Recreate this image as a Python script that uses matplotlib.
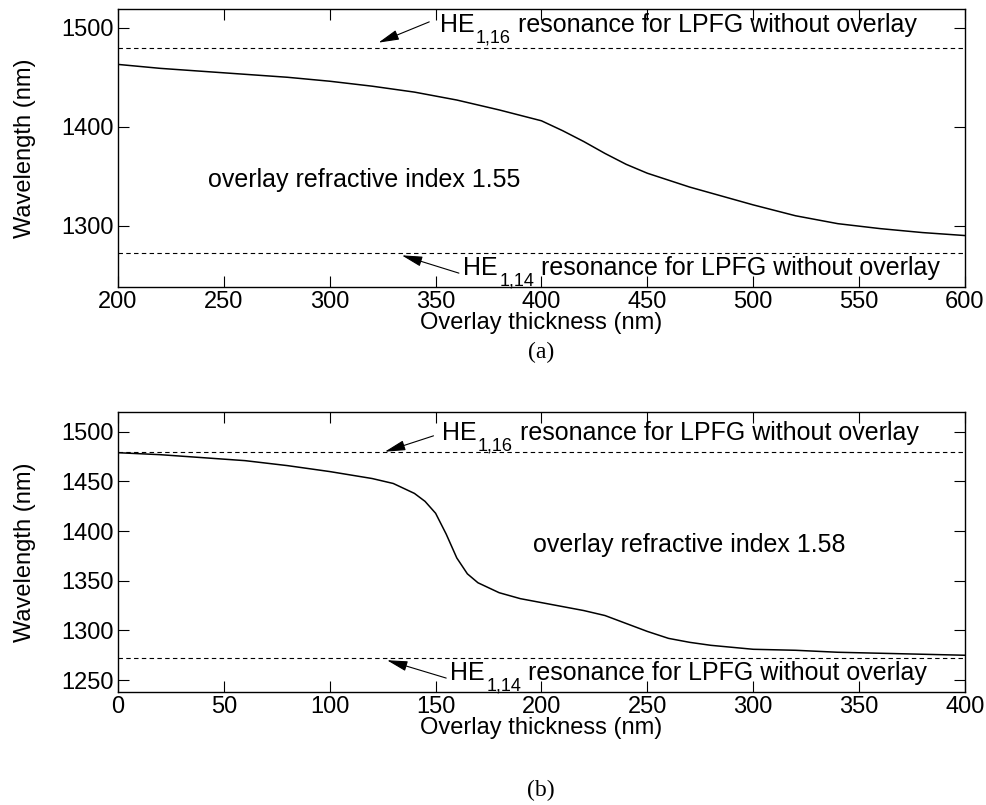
import matplotlib
matplotlib.use("Agg")
import matplotlib.pyplot as plt

# (a) overlay refractive index 1.55
thick_a = [200, 220, 240, 260, 280, 300, 320, 340, 360, 380, 400, 410,
           420, 430, 440, 450, 460, 470, 480, 500, 520, 540, 560, 580, 600]
wl_a = [1463, 1459, 1456, 1453, 1450, 1446, 1441, 1435, 1427, 1417, 1406,
        1396, 1385, 1373, 1362, 1353, 1346, 1339, 1333, 1321, 1310, 1302,
        1297, 1293, 1290]

# (b) overlay refractive index 1.58
thick_b = [0, 20, 40, 60, 80, 100, 120, 130, 140, 145, 150, 155, 160, 165,
           170, 180, 190, 200, 210, 220, 230, 240, 250, 260, 270, 280, 300,
           320, 340, 360, 380, 400]
wl_b = [1479, 1477, 1474, 1471, 1466, 1460, 1453, 1448, 1438, 1430, 1418,
        1397, 1373, 1357, 1348, 1338, 1332, 1328, 1324, 1320, 1315, 1307,
        1299, 1292, 1288, 1285, 1281, 1280, 1278, 1277, 1276, 1275]

# resonances for LPFG without overlay
he_116 = 1480
he_114 = 1272

xticks_a = [200, 250, 300, 350, 400, 450, 500, 550, 600]
yticks_a = [1300, 1400, 1500]
xticks_b = [0, 50, 100, 150, 200, 250, 300, 350, 400]
yticks_b = [1250, 1300, 1350, 1400, 1450, 1500]

plt.rcParams["font.family"] = ["Liberation Sans", "DejaVu Sans"]
plt.rcParams["font.size"] = 17

DPI = 100
fig = plt.figure(figsize=(9.87, 8.05), dpi=DPI)
ax_a = fig.add_axes([0.1196, 0.6435, 0.858, 0.3453])
ax_b = fig.add_axes([0.1196, 0.1404, 0.858, 0.3478])
renderer = fig.canvas.get_renderer()

arrow_kw = dict(arrowstyle="-|>,head_length=0.9,head_width=0.22", color="k",
                lw=0.8, shrinkA=0, shrinkB=0, mutation_scale=14)
FS = 18
REST = "resonance for LPFG without overlay"


def width_pt(t):
    return t.get_window_extent(renderer=renderer).width * 72.0 / DPI


def he_label(ax, x, y, sub):
    # "HE" with a big, low subscript, then the rest of the sentence
    t = ax.text(x, y, "HE", ha="left", va="baseline", fontsize=FS)
    w = width_pt(t) + 1.0
    s = ax.annotate(sub, xy=(x, y), xytext=(w, -7.8), textcoords="offset points",
                    ha="left", va="baseline", fontsize=13)
    w += width_pt(s) + 5.0
    ax.annotate(REST, xy=(x, y), xytext=(w, 0), textcoords="offset points",
                ha="left", va="baseline", fontsize=FS)


def style(ax, xlim, ylim, xticks, yticks):
    ax.set_xlim(*xlim)
    ax.set_ylim(*ylim)
    ax.set_xticks(xticks)
    ax.set_yticks(yticks)
    ax.tick_params(direction="in", top=True, right=True, length=8,
                   width=0.8, labelsize=17, pad=3)
    for sp in ax.spines.values():
        sp.set_linewidth(1.0)
    ax.set_xlabel("Overlay thickness (nm)", fontsize=17, labelpad=-1)
    ax.set_ylabel("Wavelength (nm)", fontsize=17)
    ax.yaxis.set_label_coords(-0.097, 0.5)


# ---- (a)
ax_a.plot(thick_a, wl_a, color="k", lw=1.1)
ax_a.axhline(he_116, color="k", lw=0.8, ls=(0, (4, 3)))
ax_a.axhline(he_114, color="k", lw=0.8, ls=(0, (4, 3)))
style(ax_a, (200, 600), (1238, 1519), xticks_a, yticks_a)
ax_a.annotate("", xy=(323, 1485), xytext=(347, 1506), arrowprops=arrow_kw)
he_label(ax_a, 352, 1496, "1,16")
ax_a.annotate("", xy=(334, 1270), xytext=(361, 1252), arrowprops=arrow_kw)
he_label(ax_a, 363, 1250, "1,14")
ax_a.text(242.5, 1346, "overlay refractive index 1.55", ha="left",
          va="center", fontsize=FS)

# ---- (b)
ax_b.plot(thick_b, wl_b, color="k", lw=1.1)
ax_b.axhline(he_116, color="k", lw=0.8, ls=(0, (4, 3)))
ax_b.axhline(he_114, color="k", lw=0.8, ls=(0, (4, 3)))
style(ax_b, (0, 400), (1238, 1520), xticks_b, yticks_b)
ax_b.annotate("", xy=(126, 1480), xytext=(149, 1496), arrowprops=arrow_kw)
he_label(ax_b, 153, 1492, "1,16")
ax_b.annotate("", xy=(127, 1270), xytext=(155, 1252), arrowprops=arrow_kw)
he_label(ax_b, 157, 1250, "1,14")
ax_b.text(196, 1386, "overlay refractive index 1.58", ha="left",
          va="center", fontsize=FS)

fig.text(0.548, 0.5627, "(a)", ha="center", va="center", fontsize=17,
         family=["Liberation Serif", "DejaVu Serif"])
fig.text(0.548, 0.0186, "(b)", ha="center", va="center", fontsize=17,
         family=["Liberation Serif", "DejaVu Serif"])

fig.savefig("out.png", dpi=DPI)
